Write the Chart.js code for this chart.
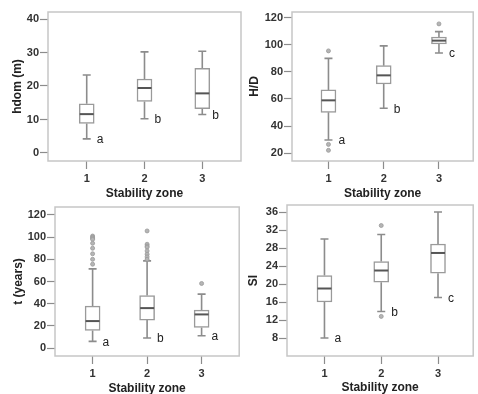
<!DOCTYPE html>
<html>
<head>
<meta charset="utf-8">
<script src="https://cdn.jsdelivr.net/npm/chart.js@4"></script>
<style>
html,body{margin:0;padding:0;background:#fff;overflow:hidden;width:478px;height:394px;}
.p{position:absolute;}
</style>
</head>
<body>
<div class="p" id="d1" style="left:0;top:0;width:244px;height:215px"><canvas id="c1"></canvas></div>
<div class="p" id="d2" style="left:240px;top:0;width:238px;height:215px"><canvas id="c2"></canvas></div>
<div class="p" id="d3" style="left:0;top:195px;width:244px;height:215px"><canvas id="c3"></canvas></div>
<div class="p" id="d4" style="left:240px;top:195px;width:238px;height:215px"><canvas id="c4"></canvas></div>
<script>
// ---- data ----
const zones = ['1', '2', '3'];
const zoneX = [1, 2, 3];

// hdom (m)
const hdomQ1  = [8.8, 15.4, 13.2];
const hdomMed = [11.6, 19.4, 17.8];
const hdomQ3  = [14.7, 22.1, 25.3];
const hdomLo  = [4.2, 10.2, 11.5];
const hdomHi  = [23.3, 30.2, 30.4];
const hdomOutX = [];
const hdomOutY = [];
const hdomLetters = ['a', 'b', 'b'];
const hdomTicks = [0, 10, 20, 30, 40];

// H/D
const hdQ1  = [50.1, 71.1, 100.7];
const hdMed = [59.0, 77.5, 103.2];
const hdQ3  = [66.7, 84.7, 105.9];
const hdLo  = [29.6, 53.1, 94.0];
const hdHi  = [90.1, 99.3, 109.9];
const hdOutX = [1, 1, 1, 3];
const hdOutY = [95.6, 26.4, 22.0, 115.6];
const hdLetters = ['a', 'b', 'c'];
const hdTicks = [20, 40, 60, 80, 100, 120];

// t (years)
const tQ1  = [15.9, 25.2, 18.6];
const tMed = [24.3, 36.0, 30.3];
const tQ3  = [37.8, 47.4, 34.2];
const tLo  = [6.0, 9.0, 11.1];
const tHi  = [71.4, 78.6, 48.6];
const tOutX = [1, 1, 1, 1, 1, 1, 1, 1, 1, 2, 2, 2, 2, 2, 2, 2, 2, 3];
const tOutY = [101, 100, 99, 98, 94.5, 90, 85, 80, 75.6, 105.6, 93.6, 92, 91, 87.6, 84.6, 82.2, 80, 58.2];
const tLetters = ['a', 'b', 'a'];
const tTicks = [0, 20, 40, 60, 80, 100, 120];

// SI
const siQ1  = [16.0, 20.4, 22.4];
const siMed = [19.0, 23.0, 26.9];
const siQ3  = [21.9, 25.0, 28.9];
const siLo  = [8.0, 13.9, 17.0];
const siHi  = [30.0, 31.0, 36.0];
const siOutX = [2, 2];
const siOutY = [33.0, 12.8];
const siLetters = ['a', 'b', 'c'];
const siTicks = [8, 12, 16, 20, 24, 28, 32, 36];

const xTitle = 'Stability zone';

// ---- layout / style ----
const FONT = "'Liberation Sans', Arial, sans-serif";
const panels = [
  {id:'c1', yTitle:'hdom (m)', q1:hdomQ1, med:hdomMed, q3:hdomQ3, lo:hdomLo, hi:hdomHi, ox:hdomOutX, oy:hdomOutY, letters:hdomLetters, ticks:hdomTicks,
   ymin:-2.4, ymax:42.1, xmin:0.33, xmax:3.67, yW:48, xH:54, padTop:12, padRight:3, yTitlePad:10, xTitlePad:14},
  {id:'c2', yTitle:'H/D', q1:hdQ1, med:hdMed, q3:hdQ3, lo:hdLo, hi:hdHi, ox:hdOutX, oy:hdOutY, letters:hdLetters, ticks:hdTicks,
   ymin:14.1, ymax:124.4, xmin:0.34, xmax:3.62, yW:52, xH:54, padTop:12, padRight:3, yTitlePad:7, xTitlePad:14},
  {id:'c3', yTitle:'t (years)', q1:tQ1, med:tMed, q3:tQ3, lo:tLo, hi:tHi, ox:tOutX, oy:tOutY, letters:tLetters, ticks:tTicks,
   ymin:-7.2, ymax:127.2, xmin:0.31, xmax:3.69, yW:55, xH:54, padTop:12, padRight:3, yTitlePad:11, xTitlePad:14},
  {id:'c4', yTitle:'SI', q1:siQ1, med:siMed, q3:siQ3, lo:siLo, hi:siHi, ox:siOutX, oy:siOutY, letters:siLetters, ticks:siTicks,
   ymin:4.0, ymax:37.56, xmin:0.34, xmax:3.62, yW:47, xH:54, padTop:10, padRight:3, yTitlePad:6, xTitlePad:15}
];

const boxPlugin = {
  id: 'boxplot',
  beforeDatasetsDraw(chart) {
    const p = chart.options.plugins.boxplot.panel;
    const {ctx, chartArea: a} = chart;
    const xs = chart.scales.x, ys = chart.scales.y;
    ctx.save();
    ctx.strokeStyle = '#c6c6c6';
    ctx.lineWidth = 1.5;
    ctx.strokeRect(a.left, a.top, a.right - a.left, a.bottom - a.top);
    ctx.strokeStyle = '#8c8c8c';
    ctx.lineWidth = 1.6;
    zoneX.forEach((zx, i) => {
      const x = xs.getPixelForValue(zx);
      const yLo = ys.getPixelForValue(p.lo[i]), yHi = ys.getPixelForValue(p.hi[i]);
      const yQ1 = ys.getPixelForValue(p.q1[i]), yQ3 = ys.getPixelForValue(p.q3[i]);
      ctx.beginPath();
      ctx.moveTo(x, yLo); ctx.lineTo(x, yQ1);
      ctx.moveTo(x, yQ3); ctx.lineTo(x, yHi);
      ctx.moveTo(x - 4, yLo); ctx.lineTo(x + 4, yLo);
      ctx.moveTo(x - 4, yHi); ctx.lineTo(x + 4, yHi);
      ctx.stroke();
    });
    ctx.restore();
  },
  afterDatasetsDraw(chart) {
    const p = chart.options.plugins.boxplot.panel;
    const {ctx} = chart;
    const xs = chart.scales.x, ys = chart.scales.y;
    ctx.save();
    ctx.strokeStyle = '#555';
    ctx.lineWidth = 2;
    ctx.fillStyle = '#222';
    ctx.font = '12px ' + FONT;
    ctx.textAlign = 'left';
    ctx.textBaseline = 'middle';
    zoneX.forEach((zx, i) => {
      const x = xs.getPixelForValue(zx);
      const ym = ys.getPixelForValue(p.med[i]);
      ctx.beginPath();
      ctx.moveTo(x - 7, ym); ctx.lineTo(x + 7, ym);
      ctx.stroke();
      ctx.fillText(p.letters[i], x + 10, ys.getPixelForValue(p.lo[i]) + 1);
    });
    ctx.restore();
  }
};

panels.forEach(p => {
  new Chart(document.getElementById(p.id), {
    type: 'bar',
    data: {
      datasets: [
        {
          type: 'bar',
          data: zoneX.map((x, i) => ({x: x, y: [p.q1[i], p.q3[i]]})),
          backgroundColor: '#ffffff',
          borderColor: '#9a9a9a',
          borderWidth: 1.5,
          borderSkipped: false,
          barThickness: 15,
          order: 2
        },
        {
          type: 'scatter',
          data: p.ox.map((x, i) => ({x: x, y: p.oy[i]})),
          pointRadius: 2,
          pointBackgroundColor: '#b5b5b5',
          pointBorderColor: '#999',
          pointBorderWidth: 0.8,
          order: 1
        }
      ]
    },
    options: {
      responsive: true,
      maintainAspectRatio: false,
      animation: false,
      events: [],
      layout: {padding: {top: p.padTop, right: p.padRight, left: 0, bottom: 0}},
      plugins: {legend: {display: false}, tooltip: {enabled: false}, boxplot: {panel: p}},
      scales: {
        x: {
          type: 'linear',
          offset: false,
          min: p.xmin, max: p.xmax,
          afterBuildTicks: s => { s.ticks = zoneX.map(v => ({value: v})); },
          afterFit: s => { s.height = p.xH; },
          ticks: {
            callback: (v) => zones[zoneX.indexOf(v)],
            font: {family: FONT, size: 11, weight: 'bold'},
            color: '#333', padding: 3, maxRotation: 0, autoSkip: false
          },
          grid: {display: true, offset: false, drawOnChartArea: false, drawTicks: true, tickLength: 8, tickColor: '#8c8c8c', tickWidth: 1.2},
          border: {display: false},
          title: {display: true, text: xTitle, font: {family: FONT, size: 12, weight: 'bold'}, color: '#222', padding: {top: 0, bottom: p.xTitlePad}}
        },
        y: {
          type: 'linear',
          min: p.ymin, max: p.ymax,
          afterBuildTicks: s => { s.ticks = p.ticks.map(v => ({value: v})); },
          afterFit: s => { s.width = p.yW; },
          ticks: {
            font: {family: FONT, size: 11, weight: 'bold'},
            color: '#333', padding: 1, autoSkip: false
          },
          grid: {display: true, drawOnChartArea: false, drawTicks: true, tickLength: 8, tickColor: '#8c8c8c', tickWidth: 1.2},
          border: {display: false},
          title: {display: true, text: p.yTitle, font: {family: FONT, size: 12, weight: 'bold'}, color: '#222', padding: {top: p.yTitlePad, bottom: 0}}
        }
      }
    },
    plugins: [boxPlugin]
  });
});
</script>
</body>
</html>
